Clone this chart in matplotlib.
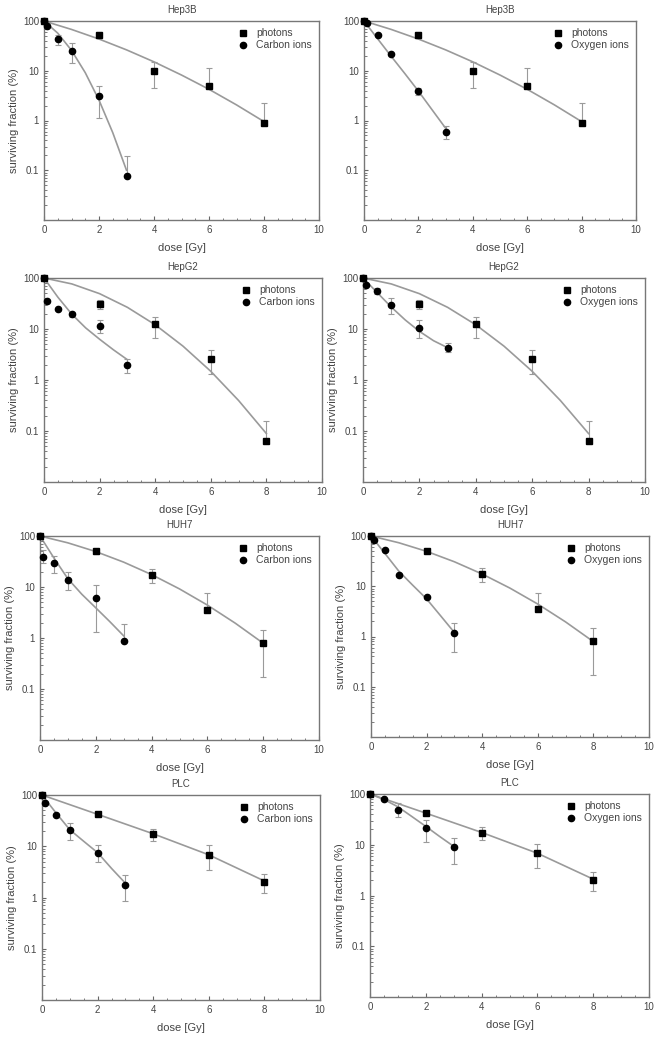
import matplotlib
matplotlib.use("Agg")
import matplotlib.pyplot as plt
from matplotlib.ticker import FixedLocator, MultipleLocator, NullFormatter
import numpy as np

plt.rcParams['font.family'] = ['Liberation Sans', 'DejaVu Sans']

# dose points
ph_dose = [0, 2, 4, 6, 8]
ion_dose = [0, 0.1, 0.5, 1, 2, 3]
plc_ox_dose = [0, 0.5, 1, 2, 3]

# Hep3B
hep3b_ph = [100, 53, 9.8, 5.0, 0.9]
hep3b_ph_lo = [100, 45, 4.5, 5.0, 0.9]
hep3b_ph_hi = [100, 60, 15, 11.5, 2.3]
hep3b_c = [100, 78, 43, 25, 3.1, 0.078]
hep3b_c_lo = [100, 78, 33, 14, 1.1, 0.078]
hep3b_c_hi = [100, 78, 52, 36, 5.0, 0.19]
hep3b_o = [100, 90, 52, 22, 4.0, 0.6]
hep3b_o_lo = [100, 90, 52, 22, 3.2, 0.42]
hep3b_o_hi = [100, 90, 52, 22, 4.6, 0.78]

# HepG2
hepg2_ph = [100, 31, 12.4, 2.6, 0.063]
hepg2_ph_lo = [100, 25, 6.7, 1.3, 0.063]
hepg2_ph_hi = [100, 37, 17.5, 3.9, 0.155]
hepg2_c = [100, 35, 24.5, 19.6, 11.5, 2.0]
hepg2_c_lo = [100, 35, 24.5, 17, 8.5, 1.35]
hepg2_c_hi = [100, 35, 24.5, 22, 15, 2.6]
hepg2_o = [100, 72, 55, 29, 10.7, 4.3]
hepg2_o_lo = [100, 72, 48, 20, 6.8, 3.5]
hepg2_o_hi = [100, 72, 65, 40, 15, 5.4]

# HUH7
huh7_ph = [100, 51, 17.5, 3.5, 0.8]
huh7_ph_lo = [100, 45, 12, 3.5, 0.17]
huh7_ph_hi = [100, 56, 23, 7.5, 1.45]
huh7_c = [100, 39, 30, 14, 6.1, 0.89]
huh7_c_lo = [100, 30, 19, 8.8, 1.3, 0.89]
huh7_c_hi = [100, 52, 40, 20, 11, 1.9]
huh7_o = [100, 83, 52, 17, 6.2, 1.16]
huh7_o_lo = [100, 83, 52, 17, 6.2, 0.49]
huh7_o_hi = [100, 83, 52, 17, 6.2, 1.85]

# PLC
plc_ph = [100, 42.4, 17.2, 6.8, 2.0]
plc_ph_lo = [100, 39, 12.5, 3.5, 1.25]
plc_ph_hi = [100, 46, 22, 10.5, 2.9]
plc_c = [100, 71, 41, 20.6, 7.4, 1.75]
plc_c_lo = [100, 71, 41, 13.5, 5, 0.85]
plc_c_hi = [100, 71, 41, 28, 10.5, 2.7]
plc_o = [100, 80, 49, 21.8, 9.0]
plc_o_lo = [100, 80, 36, 11.5, 4.2]
plc_o_hi = [100, 80, 65, 31, 13.5]

# fitted curves
fit_ph_dose = [0, 1, 2, 3, 4, 5, 6, 7, 8]
fit_hep3b_ph = [100, 67.7, 43.4, 26.3, 15.1, 8.2, 4.24, 2.06, 0.95]
fit_hepg2_ph = [100, 76.6, 49.3, 26.6, 12.1, 4.61, 1.48, 0.396, 0.089]
fit_huh7_ph = [100, 73.4, 49.5, 30.7, 17.5, 9.17, 4.42, 1.95, 0.79]
fit_plc_dose = [0, 2, 4, 6, 8]
fit_plc_ph = [100, 42, 17.5, 6.8, 2.1]

fit_ion_dose = [0, 0.5, 1, 1.5, 2, 2.5, 3]
fit_hep3b_c = [100, 57, 25.7, 9.15, 2.57, 0.57, 0.1]
fit_hep3b_o = [100, 44, 19.5, 8.8, 3.9, 1.65, 0.7]
fit_hepg2_c = [100, 42, 19.5, 10.5, 6.3, 3.9, 2.5]
fit_hepg2_o = [100, 52, 27, 15, 9, 5.9, 4.3]
fit_huh7_c = [100, 37, 14.5, 7.2, 3.9, 2.1, 1.1]
fit_huh7_o = [100, 45, 20, 10.5, 5.6, 2.6, 1.2]
fit_plc_c = [100, 45, 21, 12.5, 7.5, 3.7, 1.9]
fit_plc_o = [100, 78, 56, 36, 23, 14.5, 9.3]

GRAY = "#9a9a9a"
TXT = "#444444"

panels = [
    # title, ion label, ph data, ion data, fits, axes px box (l, r, t, b), ylabel
    ("Hep3B", "Carbon ions", (hep3b_ph, hep3b_ph_lo, hep3b_ph_hi), (ion_dose, hep3b_c, hep3b_c_lo, hep3b_c_hi),
     (fit_ph_dose, fit_hep3b_ph), fit_hep3b_c, (44, 319, 21, 220), True),
    ("Hep3B", "Oxygen ions", (hep3b_ph, hep3b_ph_lo, hep3b_ph_hi), (ion_dose, hep3b_o, hep3b_o_lo, hep3b_o_hi),
     (fit_ph_dose, fit_hep3b_ph), fit_hep3b_o, (364, 636, 21, 220), False),
    ("HepG2", "Carbon ions", (hepg2_ph, hepg2_ph_lo, hepg2_ph_hi), (ion_dose, hepg2_c, hepg2_c_lo, hepg2_c_hi),
     (fit_ph_dose, fit_hepg2_ph), fit_hepg2_c, (44, 322, 278, 482), True),
    ("HepG2", "Oxygen ions", (hepg2_ph, hepg2_ph_lo, hepg2_ph_hi), (ion_dose, hepg2_o, hepg2_o_lo, hepg2_o_hi),
     (fit_ph_dose, fit_hepg2_ph), fit_hepg2_o, (363, 645, 278, 482), True),
    ("HUH7", "Carbon ions", (huh7_ph, huh7_ph_lo, huh7_ph_hi), (ion_dose, huh7_c, huh7_c_lo, huh7_c_hi),
     (fit_ph_dose, fit_huh7_ph), fit_huh7_c, (40, 319, 536, 740), True),
    ("HUH7", "Oxygen ions", (huh7_ph, huh7_ph_lo, huh7_ph_hi), (ion_dose, huh7_o, huh7_o_lo, huh7_o_hi),
     (fit_ph_dose, fit_huh7_ph), fit_huh7_o, (371, 649, 536, 737), True),
    ("PLC", "Carbon ions", (plc_ph, plc_ph_lo, plc_ph_hi), (ion_dose, plc_c, plc_c_lo, plc_c_hi),
     (fit_plc_dose, fit_plc_ph), fit_plc_c, (42, 320, 795, 1000), True),
    ("PLC", "Oxygen ions", (plc_ph, plc_ph_lo, plc_ph_hi), (plc_ox_dose, plc_o, plc_o_lo, plc_o_hi),
     (fit_plc_dose, fit_plc_ph), fit_plc_o, (370, 649, 794, 997), True),
]

W, H = 658, 1037
fig = plt.figure(figsize=(W / 100, H / 100), dpi=100)


def err(y, lo, hi):
    y = np.array(y, float)
    return np.vstack([y - np.array(lo, float), np.array(hi, float) - y])


for title, ion_lab, ph, ion, phfit, ionfit, box, ylab in panels:
    l, r, t, b = box
    ax = fig.add_axes([l / W, 1 - b / H, (r - l) / W, (b - t) / H])

    # fitted curves
    ax.plot(phfit[0], phfit[1], color=GRAY, lw=1.2, zorder=1)
    ax.plot(fit_ion_dose, ionfit, color=GRAY, lw=1.2, zorder=1)

    # error bars
    ax.errorbar(ph_dose, ph[0], yerr=err(*ph), fmt="none", ecolor=GRAY,
                elinewidth=0.8, capsize=2, capthick=0.8, zorder=2)
    ax.errorbar(ion[0], ion[1], yerr=err(*ion[1:]), fmt="none", ecolor=GRAY,
                elinewidth=0.8, capsize=2, capthick=0.8, zorder=2)

    # data points
    ax.plot(ph_dose, ph[0], "s", color="black", ms=4.5, clip_on=False, zorder=3, label="photons")
    ax.plot(ion[0], ion[1], "o", color="black", ms=4.5, clip_on=False, zorder=3, label=ion_lab)

    ax.set_yscale("log")
    ax.set_xlim(0, 10)
    ax.set_ylim(0.01, 100)
    ax.xaxis.set_major_locator(MultipleLocator(2))
    ax.xaxis.set_minor_locator(MultipleLocator(0.5))
    ax.yaxis.set_major_locator(FixedLocator([0.1, 1, 10, 100]))
    ax.yaxis.set_major_formatter(plt.FuncFormatter(lambda v, p: "%g" % v))
    ax.yaxis.set_minor_formatter(NullFormatter())
    ax.tick_params(which="both", direction="in", colors="#666666", labelcolor=TXT, labelsize=7)
    ax.tick_params(which="major", length=3)
    ax.tick_params(which="minor", length=1.8)
    for s in ax.spines.values():
        s.set_color("#777777")
        s.set_linewidth(1.0)

    ax.set_title(title, fontsize=7, color=TXT, pad=6)
    ax.set_xlabel("dose [Gy]", fontsize=8, color=TXT, labelpad=6)
    if ylab:
        ax.set_ylabel("surviving fraction (%)", fontsize=8, color=TXT, labelpad=3)

    ax.legend(loc="upper right", frameon=False, fontsize=7.5, handletextpad=0.6,
              labelspacing=0.2, borderaxespad=0.3, handlelength=1.2, labelcolor=TXT)

fig.savefig("out.png", dpi=100)
